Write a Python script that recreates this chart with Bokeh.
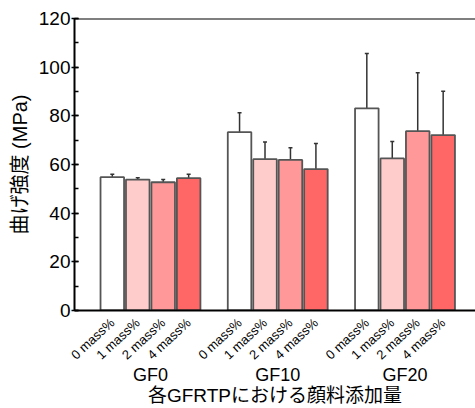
import math
from bokeh.plotting import figure
from bokeh.models import (ColumnDataSource, Range1d, FixedTicker, SingleIntervalTicker,
                          LinearAxis, Whisker, TeeHead, Span)
from bokeh.embed import file_html
from bokeh.resources import INLINE

groups = ["GF0", "GF10", "GF20"]
levels = ["0 mass%", "1 mass%", "2 mass%", "4 mass%"]
colors = ["#ffffff", "#ffcccc", "#ff9999", "#ff6666"]

gf0_mean = [54.8, 53.8, 52.7, 54.4]
gf0_err = [1.2, 0.8, 1.1, 1.6]
gf10_mean = [73.3, 62.2, 61.9, 58.1]
gf10_err = [8.0, 7.0, 5.0, 10.5]
gf20_mean = [83.1, 62.5, 73.7, 72.1]
gf20_err = [22.5, 7.0, 24.0, 18.0]

means = [gf0_mean, gf10_mean, gf20_mean]
errs = [gf0_err, gf10_err, gf20_err]

slot = [-3, -1, 1, 3]
xs, tops, ups, lows, fills, labels = [], [], [], [], [], []
group_ticks = []
for gi, g in enumerate(groups):
    c = 10 * (gi + 1)
    group_ticks.append(c)
    for k in range(4):
        xs.append(c + slot[k])
        tops.append(means[gi][k])
        ups.append(means[gi][k] + errs[gi][k])
        lows.append(means[gi][k] - errs[gi][k])
        fills.append(colors[k])
        labels.append(levels[k])

src = ColumnDataSource(dict(x=xs, top=tops, upper=ups, lower=lows, fill=fills))

FONT = "Liberation Sans, Arial, Noto Sans CJK JP"

p = figure(width=475, height=408, output_backend="svg", toolbar_location=None,
           x_range=Range1d(4.03, 35.54), y_range=Range1d(0, 120),
           min_border_left=74, min_border_top=18, min_border_right=0, min_border_bottom=98)
p.outline_line_color = None
p.xgrid.grid_line_color = None
p.ygrid.grid_line_color = None
p.background_fill_color = "white"
p.border_fill_color = "white"

p.vbar(x="x", top="top", bottom=0, width=1.85, source=src, fill_color="fill",
       line_color="#555555", line_width=1.8)

p.add_layout(Whisker(source=src, base="x", upper="upper", lower="lower",
                     line_color="#333333", line_width=1.5,
                     upper_head=TeeHead(size=4, line_color="#333333", line_width=1.5),
                     lower_head=TeeHead(size=4, line_color="#333333", line_width=1.5)))

p.add_layout(Span(location=120, dimension="width", line_color="black", line_width=2))

# y axis
ya = p.yaxis[0]
ya.ticker = SingleIntervalTicker(interval=20, num_minor_ticks=2)
ya.axis_line_color = "black"
ya.axis_line_width = 2
ya.major_tick_line_width = 1.5
ya.major_tick_in = 4
ya.major_tick_out = 3
ya.minor_tick_in = 4
ya.minor_tick_out = 0
ya.minor_tick_line_width = 1.5
ya.major_label_text_font = FONT
ya.major_label_text_font_size = "19px"
ya.major_label_text_color = "black"
ya.major_label_standoff = 1
ya.axis_label = "曲げ強度 (MPa)"
ya.axis_label_text_font = FONT
ya.axis_label_text_font_size = "20px"
ya.axis_label_text_font_style = "normal"
ya.axis_label_text_color = "black"
ya.axis_label_standoff = 5

# x axis: sub labels
xa = p.xaxis[0]
xa.ticker = FixedTicker(ticks=xs)
xa.major_label_overrides = {x: l for x, l in zip(xs, labels)}
xa.major_label_orientation = math.pi / 4.2
xa.axis_line_color = "black"
xa.axis_line_width = 2
xa.major_tick_line_color = None
xa.minor_tick_line_color = None
xa.major_label_text_font = FONT
xa.major_label_text_font_size = "13px"
xa.major_label_text_color = "black"
xa.major_label_standoff = 4

# x axis: group labels + title
ga = LinearAxis(ticker=FixedTicker(ticks=group_ticks),
                major_label_overrides={t: g for t, g in zip(group_ticks, groups)})
ga.axis_line_color = None
ga.major_tick_line_color = None
ga.minor_tick_line_color = None
ga.major_label_text_font = FONT
ga.major_label_text_font_size = "18px"
ga.major_label_text_color = "black"
ga.major_label_standoff = -12
ga.axis_label = "各GFRTPにおける顔料添加量"
ga.axis_label_text_font = FONT
ga.axis_label_text_font_size = "19px"
ga.axis_label_text_font_style = "normal"
ga.axis_label_text_color = "black"
ga.axis_label_standoff = -3
p.add_layout(ga, "below")

open("out.html", "w").write(file_html(p, INLINE))
